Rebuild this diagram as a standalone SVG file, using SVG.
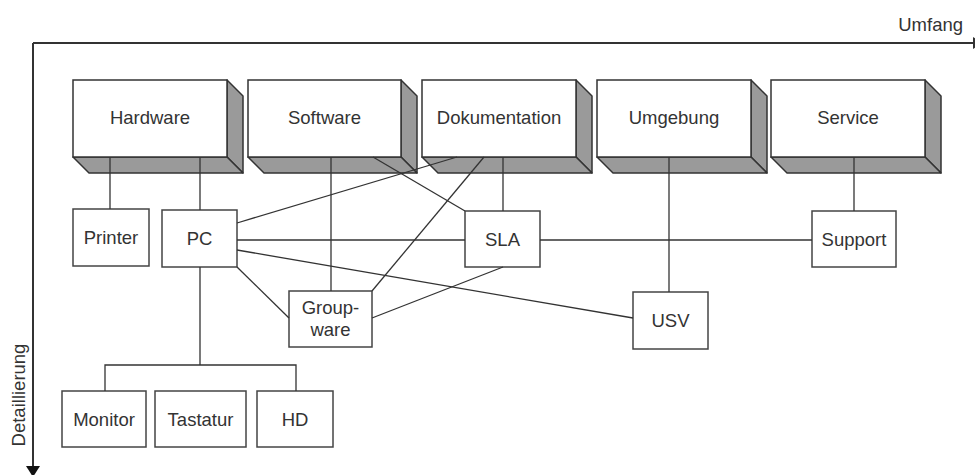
<svg xmlns="http://www.w3.org/2000/svg" width="975" height="475" viewBox="0 0 975 475">
<style>
  .face { fill: #ffffff; stroke: #333333; stroke-width: 1.5; }
  .shade { fill: #9a9a9a; stroke: #333333; stroke-width: 1.5; stroke-linejoin: round; }
  .box { fill: #ffffff; stroke: #444444; stroke-width: 1.5; }
  .lbl { font-family: "Liberation Sans", Arial, sans-serif; font-size: 18.5px; fill: #333333; text-anchor: middle; }
  .con line, .con path { stroke: #333333; stroke-width: 1.3; fill: none; }
  .axis { stroke: #333333; stroke-width: 2; fill: none; }
</style>

<g id="axes">
  <line class="axis" x1="33" y1="43" x2="974" y2="43"/>
  <polygon points="973,37 983,43 973,49" fill="#333333"/>
  <line class="axis" x1="33" y1="43" x2="33" y2="468"/>
  <polygon points="26,466 40,466 33,477" fill="#111111"/>
  <text class="lbl" x="963" y="31" style="text-anchor:end">Umfang</text>
  <text class="lbl" transform="translate(25,395) rotate(-90)">Detaillierung</text>
</g>

<g id="hardware">
  <polygon class="shade" points="227,80 243,96 243,173 227,157"/>
  <polygon class="shade" points="73,157 89,173 243,173 227,157"/>
  <rect class="face" x="73" y="80" width="154" height="77"/>
  <text class="lbl" x="150" y="124">Hardware</text>
</g>
<g id="software">
  <polygon class="shade" points="401,80 417,96 417,173 401,157"/>
  <polygon class="shade" points="248,157 264,173 417,173 401,157"/>
  <rect class="face" x="248" y="80" width="153" height="77"/>
  <text class="lbl" x="324.5" y="124">Software</text>
</g>
<g id="dokumentation">
  <polygon class="shade" points="576,80 592,96 592,173 576,157"/>
  <polygon class="shade" points="422,157 438,173 592,173 576,157"/>
  <rect class="face" x="422" y="80" width="154" height="77"/>
  <text class="lbl" x="499" y="124">Dokumentation</text>
</g>
<g id="umgebung">
  <polygon class="shade" points="751,80 767,96 767,173 751,157"/>
  <polygon class="shade" points="597,157 613,173 767,173 751,157"/>
  <rect class="face" x="597" y="80" width="154" height="77"/>
  <text class="lbl" x="674" y="124">Umgebung</text>
</g>
<g id="service">
  <polygon class="shade" points="925,80 941,96 941,173 925,157"/>
  <polygon class="shade" points="771,157 787,173 941,173 925,157"/>
  <rect class="face" x="771" y="80" width="154" height="77"/>
  <text class="lbl" x="848" y="124">Service</text>
</g>

<g id="printer">
  <rect class="box" x="73" y="209" width="76" height="57"/>
  <text class="lbl" x="111" y="244">Printer</text>
</g>
<g id="pc">
  <rect class="box" x="162" y="210" width="75" height="57"/>
  <text class="lbl" x="199.5" y="245">PC</text>
</g>
<g id="sla">
  <rect class="box" x="465" y="211" width="75" height="56"/>
  <text class="lbl" x="502.5" y="246">SLA</text>
</g>
<g id="support">
  <rect class="box" x="812" y="211" width="84" height="56"/>
  <text class="lbl" x="854" y="246">Support</text>
</g>
<g id="groupware">
  <rect class="box" x="289" y="291" width="83" height="56"/>
  <text class="lbl" x="330.5" y="314">Group-</text>
  <text class="lbl" x="330.5" y="336">ware</text>
</g>
<g id="usv">
  <rect class="box" x="633" y="292" width="75" height="57"/>
  <text class="lbl" x="670.5" y="327">USV</text>
</g>
<g id="monitor">
  <rect class="box" x="62" y="391" width="84" height="56"/>
  <text class="lbl" x="104" y="426">Monitor</text>
</g>
<g id="tastatur">
  <rect class="box" x="155" y="391" width="91" height="56"/>
  <text class="lbl" x="200.5" y="426">Tastatur</text>
</g>
<g id="hd">
  <rect class="box" x="257" y="391" width="76" height="56"/>
  <text class="lbl" x="295" y="426">HD</text>
</g>

<g id="connectors" class="con">
  <line x1="110" y1="157" x2="110" y2="209"/>
  <line x1="200" y1="157" x2="200" y2="210"/>
  <line x1="331" y1="157" x2="331" y2="291"/>
  <line x1="373" y1="157" x2="465" y2="211"/>
  <line x1="503" y1="157" x2="503" y2="211"/>
  <line x1="457" y1="157" x2="237" y2="223"/>
  <line x1="484" y1="157" x2="372" y2="291"/>
  <line x1="669" y1="157" x2="669" y2="292"/>
  <line x1="854" y1="157" x2="854" y2="211"/>
  <line x1="237" y1="240" x2="465" y2="240"/>
  <line x1="540" y1="240" x2="812" y2="240"/>
  <line x1="237" y1="250" x2="633" y2="318"/>
  <line x1="237" y1="267" x2="289" y2="318"/>
  <line x1="372" y1="318" x2="503" y2="267"/>
  <path d="M200,267 V365 M105,391 V365 H296 V391"/>
</g>
</svg>
